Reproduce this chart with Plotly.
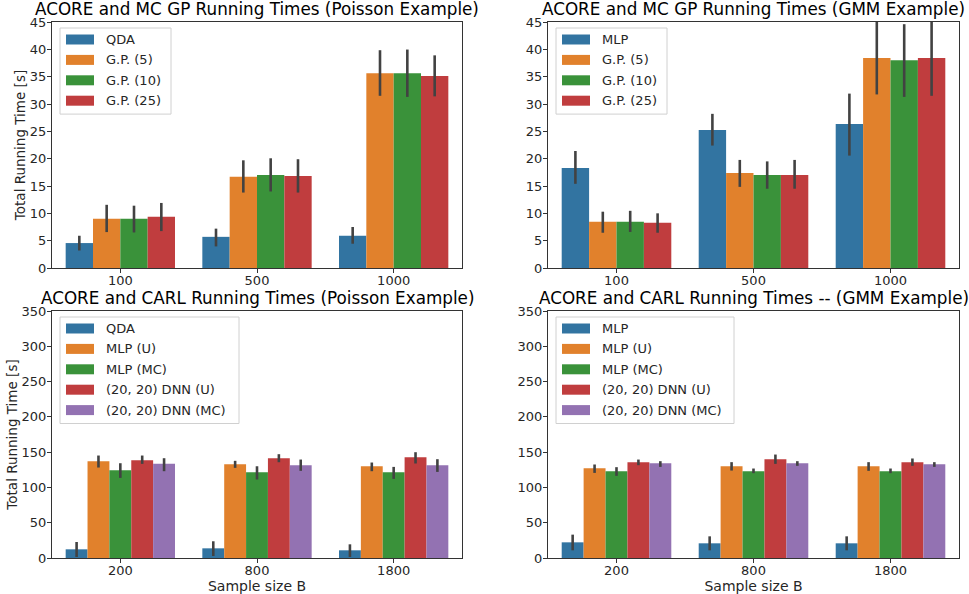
import plotly.graph_objects as go

W, H = 969, 594

# ---------------- data ----------------
gp_sizes = ["100", "500", "1000"]
carl_sizes = ["200", "800", "1800"]

# Panel 1: ACORE and MC GP (Poisson)
pois_gp_series = ["QDA", "G.P. (5)", "G.P. (10)", "G.P. (25)"]
pois_gp_mean = [[4.56, 5.7, 5.9], [9.0, 16.67, 35.64], [9.0, 17.03, 35.64], [9.37, 16.85, 35.1]]
pois_gp_low = [[3.2, 3.95, 4.44], [6.57, 13.8, 31.5], [6.5, 14.0, 31.3], [6.75, 13.8, 31.4]]
pois_gp_high = [[5.9, 7.2, 7.5], [11.56, 19.7, 39.84], [11.4, 20.07, 39.96], [11.9, 19.9, 38.9]]

# Panel 2: ACORE and MC GP (GMM)
gmm_gp_series = ["MLP", "G.P. (5)", "G.P. (10)", "G.P. (25)"]
gmm_gp_mean = [[18.3, 25.24, 26.34], [8.45, 17.4, 38.4], [8.45, 17.03, 38.0], [8.27, 17.03, 38.4]]
gmm_gp_low = [[15.4, 22.4, 20.56], [6.45, 14.84, 31.75], [6.6, 14.5, 31.3], [6.45, 14.5, 31.5]]
gmm_gp_high = [[21.4, 28.2, 31.9], [10.3, 19.77, 45.4], [10.46, 19.5, 44.6], [10.0, 19.77, 45.6]]

# Panel 3: ACORE and CARL (Poisson)
pois_carl_series = ["QDA", "MLP (U)", "MLP (MC)", "(20, 20) DNN (U)", "(20, 20) DNN (MC)"]
pois_carl_mean = [[12.3, 13.7, 10.9], [137.2, 132.9, 130.1], [124.4, 121.6, 121.6],
                  [138.6, 141.4, 142.8], [133.4, 131.5, 131.5]]
pois_carl_low = [[1.4, 2.8, 1.4], [128.2, 127.7, 123.0], [113.5, 111.2, 112.1],
                 [133.4, 135.7, 133.9], [123.0, 123.5, 122.0]]
pois_carl_high = [[22.7, 23.7, 19.4], [145.2, 137.7, 135.3], [134.3, 130.0, 129.1],
                  [145.2, 147.1, 149.9], [141.4, 139.5, 140.0]]

# Panel 4: ACORE and CARL (GMM)
gmm_carl_series = ["MLP", "MLP (U)", "MLP (MC)", "(20, 20) DNN (U)", "(20, 20) DNN (MC)"]
gmm_carl_mean = [[22.2, 20.8, 20.8], [127.2, 130.1, 130.1], [123.0, 123.0, 123.0],
                 [135.8, 140.0, 135.8], [134.3, 134.3, 132.9]]
gmm_carl_low = [[10.9, 10.9, 10.9], [120.6, 123.9, 123.5], [116.4, 120.2, 120.2],
                [131.5, 133.4, 130.6], [129.1, 130.6, 129.1]]
gmm_carl_high = [[33.1, 30.7, 30.7], [132.5, 135.8, 135.8], [128.7, 126.8, 126.8],
                 [139.5, 146.6, 141.0], [137.2, 137.2, 135.8]]

titles = ["ACORE and MC GP Running Times (Poisson Example)",
          "ACORE and MC GP Running Times (GMM Example)",
          "ACORE and CARL Running Times (Poisson Example)",
          "ACORE and CARL Running Times -- (GMM Example)"]

colors = ["#3274A1", "#E1812C", "#3A923A", "#C03D3E", "#9372B2"]

# ---------------- layout geometry (pixels) ----------------
boxes = [(52, 462, 22, 268), (548, 959, 22, 268), (52, 462, 311, 558), (548, 959, 311, 558)]
legend_widths = [111, 111, 179, 178]

def px(x):
    return x / W

def py(y):
    return 1 - y / H

panels = [
    (gp_sizes, pois_gp_series, pois_gp_mean, pois_gp_low, pois_gp_high),
    (gp_sizes, gmm_gp_series, gmm_gp_mean, gmm_gp_low, gmm_gp_high),
    (carl_sizes, pois_carl_series, pois_carl_mean, pois_carl_low, pois_carl_high),
    (carl_sizes, gmm_carl_series, gmm_carl_mean, gmm_carl_low, gmm_carl_high),
]

FONT = "DejaVu Sans"
TXT = "#262626"
fig = go.Figure()
shapes = []
annotations = []

for p, (cats, series, means, lows, highs) in enumerate(panels):
    xa = "x" if p == 0 else f"x{p+1}"
    ya = "y" if p == 0 else f"y{p+1}"
    for s, name in enumerate(series):
        m = means[s]
        fig.add_trace(go.Bar(
            x=cats, y=m, name=name, xaxis=xa, yaxis=ya, showlegend=False,
            marker=dict(color=colors[s], line=dict(width=0)),
            error_y=dict(type="data", symmetric=False,
                         array=[h - v for h, v in zip(highs[s], m)],
                         arrayminus=[v - l for v, l in zip(m, lows[s])],
                         color="#424242", thickness=2.6, width=0),
        ))
    x0, x1, y0, y1 = boxes[p]
    # title
    annotations.append(dict(text=titles[p], x=px((x0 + x1) / 2), y=py(y0 - 1),
                            xref="paper", yref="paper", xanchor="center", yanchor="bottom",
                            showarrow=False, font=dict(family=FONT, size=16.8, color="black")))
    # custom legend
    n = len(series)
    bl, bt = x0 + 8, y0 + 6
    bh = 20.4 * n + 4.5
    shapes.append(dict(type="rect", xref="paper", yref="paper",
                       x0=px(bl), x1=px(bl + legend_widths[p]), y0=py(bt + bh), y1=py(bt),
                       line=dict(color="#d0d0d0", width=1), fillcolor="rgba(255,255,255,0.8)",
                       layer="above"))
    for s, name in enumerate(series):
        cy = bt + 11.5 + 20.4 * s
        shapes.append(dict(type="rect", xref="paper", yref="paper",
                           x0=px(bl + 6), x1=px(bl + 34), y0=py(cy + 5), y1=py(cy - 5),
                           line=dict(width=0), fillcolor=colors[s], layer="above"))
        annotations.append(dict(text=name, x=px(bl + 44), y=py(cy), xref="paper", yref="paper",
                                xanchor="left", yanchor="middle", showarrow=False,
                                font=dict(family=FONT, size=13, color=TXT)))

layout = dict(
    width=W, height=H, margin=dict(l=0, r=0, t=0, b=0, autoexpand=False),
    paper_bgcolor="white", plot_bgcolor="white",
    barmode="group", bargap=0.2, bargroupgap=0,
    font=dict(family=FONT, size=13, color=TXT),
    shapes=shapes, annotations=annotations,
)

for p in range(4):
    x0, x1, y0, y1 = boxes[p]
    xk = "xaxis" if p == 0 else f"xaxis{p+1}"
    yk = "yaxis" if p == 0 else f"yaxis{p+1}"
    ya = "y" if p == 0 else f"y{p+1}"
    xa = "x" if p == 0 else f"x{p+1}"
    top = p < 2
    layout[xk] = dict(domain=[px(x0), px(x1)], anchor=ya, type="category", automargin=False,
                      range=[-0.5, 2.5], showline=True, mirror=True, linecolor="#333333",
                      linewidth=1.3, ticks="outside", ticklen=4, tickcolor="#333333",
                      showgrid=False, zeroline=False, ticklabelstandoff=-4,
                      tickfont=dict(family=FONT, size=13, color=TXT),
                      title=dict(text="" if top else "Sample size B", standoff=0,
                                 font=dict(family=FONT, size=14, color=TXT)))
    layout[yk] = dict(domain=[py(y1), py(y0)], anchor=xa, automargin=False,
                      range=[0, 45] if top else [0, 350], dtick=5 if top else 50,
                      showline=True, mirror=True, linecolor="#333333", linewidth=1.3,
                      ticks="outside", ticklen=4, tickcolor="#333333",
                      showgrid=False, zeroline=False, ticklabelstandoff=-2,
                      tickfont=dict(family=FONT, size=13, color=TXT),
                      title=dict(text="Total Running Time [s]" if p % 2 == 0 else "", standoff=0,
                                 font=dict(family=FONT, size=13.5, color=TXT)))

fig.update_layout(**layout)
fig.write_html("out.html", config={"displayModeBar": False},
               post_script="document.body.style.margin='0px';")
